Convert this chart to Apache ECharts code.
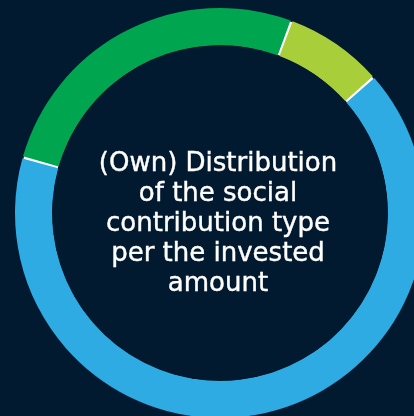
<!DOCTYPE html>
<html><head><meta charset="utf-8">
<script src="https://cdn.jsdelivr.net/npm/echarts@6/dist/echarts.min.js"></script>
<style>html,body{margin:0;padding:0;background:#021a2f}#c{width:414px;height:416px}</style>
</head><body><div id="c"></div>
<script>
const categories = ['Type A', 'Type B', 'Type C'];
const values = [26.3, 7.8, 65.9];
const colors = ['#00a54f', '#a8ce3a', '#2eabe2'];
const centerTitle = '(Own) Distribution\nof the social\ncontribution type\nper the invested\namount';

const chart = echarts.init(document.getElementById('c'));
chart.setOption({
  backgroundColor: '#021a2f',
  animation: false,
  graphic: [{
    type: 'text', x: 218, y: 224,
    style: {
      text: centerTitle, fill: '#ffffff', align: 'center', verticalAlign: 'middle',
      font: '500 26px "DejaVu Sans"', lineHeight: 30,
      stroke: '#ffffff', lineWidth: 0.4
    }
  }],
  series: [
    {
      type: 'pie', silent: true, center: [220, 213], radius: [168.5, 204],
      label: { show: false }, labelLine: { show: false },
      data: [{ value: 1, itemStyle: { color: '#ffffff' } }]
    },
    {
      type: 'pie', silent: true, center: [220, 213], radius: [168, 205],
      startAngle: 164.25, clockwise: true, padAngle: 0.65,
      label: { show: false }, labelLine: { show: false },
      data: categories.map((c, i) => ({ name: c, value: values[i], itemStyle: { color: colors[i] } }))
    }
  ]
});
</script></body></html>
